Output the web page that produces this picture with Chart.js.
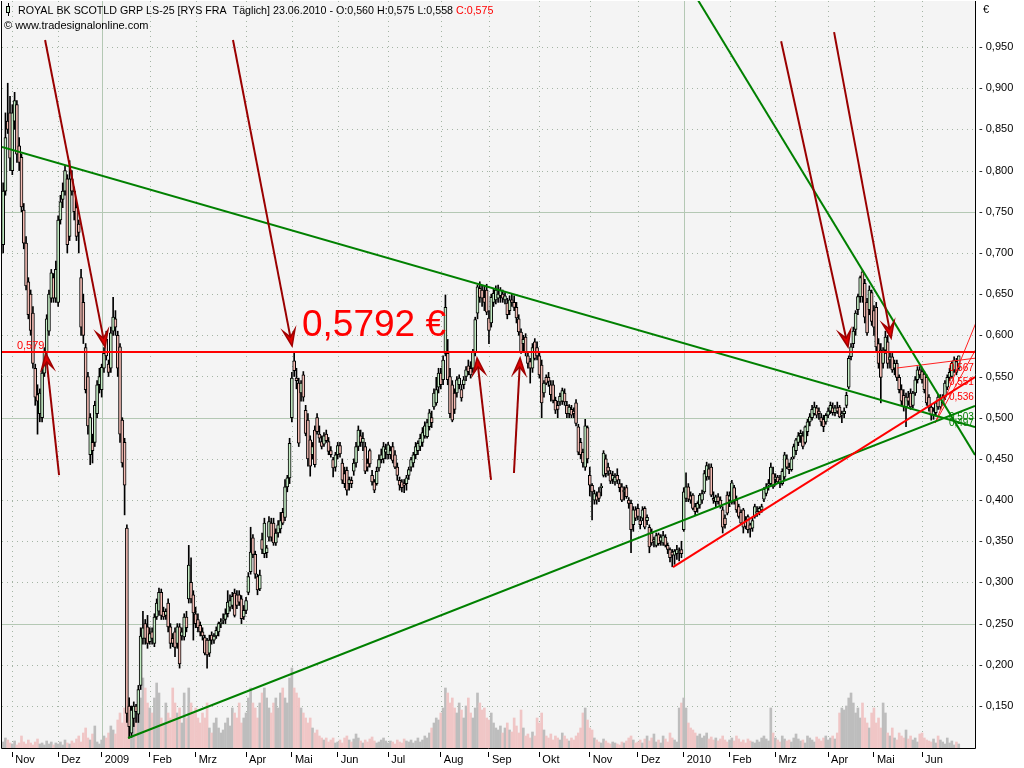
<!DOCTYPE html>
<html>
<head>
<meta charset="utf-8">
<script src="https://cdn.jsdelivr.net/npm/chart.js@4.4.1/dist/chart.umd.min.js"></script>
<style>
html, body { margin: 0; padding: 0; background: #fff; }
canvas { display: block; }
</style>
</head>
<body>
<canvas id="chart" width="1024" height="768"></canvas>
<script>
// daily candles in thousandths of a euro: [open, high, low, close, volume]
const oct08 = [[710,785,700,775,6],[775,870,770,840,10],[860,906,845,850,8],[870,890,800,815,5]];
const nov08 = [[800,880,795,870,4],[860,895,850,885,7],[880,885,810,820,3],[830,840,800,810,5],[816,820,750,756,12],[752,760,705,712,6],[712,720,655,660,4],[665,670,620,625,8],[650,655,600,606,5],[627,635,560,566,3],[560,565,515,525,6],[528,540,480,520,9],[505,535,495,530,4],[500,560,495,554,5],[554,585,550,580,3],[580,625,575,620,7],[605,655,600,650,4],[645,680,640,676,6],[670,675,640,645,3],[645,690,640,680,5]];
const dec08 = [[640,745,635,740,4],[740,770,735,762,6],[765,785,755,775,3],[775,805,770,800,8],[790,795,700,710,5],[720,812,715,790,4],[790,800,770,775,7],[775,780,740,750,5],[755,760,715,720,9],[735,740,700,725,12],[670,680,600,610,6],[640,650,590,600,15],[585,590,530,534,20],[550,555,480,490,10],[455,505,443,500,8],[470,480,445,460,14],[470,520,465,515,22],[505,545,500,540,6],[540,560,530,550,4]];
const jan09 = [[534,565,525,561,8],[560,585,555,578,12],[595,605,570,575,10],[565,570,550,555,15],[560,610,555,603,22],[605,646,600,622,18],[620,630,600,610,14],[600,605,550,560,28],[586,590,470,480,35],[497,500,440,445,25],[470,475,382,418,40],[366,370,130,141,148],[150,160,111,125,35],[117,150,112,145,30],[135,155,125,150,25],[150,152,130,143,30],[140,175,130,170,40],[175,245,170,235,50],[232,265,225,245,70],[250,255,225,232,60],[246,260,220,226,45]];
const feb09 = [[228,245,225,238,40],[240,245,225,232,35],[226,262,222,258,50],[258,280,255,275,65],[265,293,260,288,55],[288,292,255,260,30],[265,270,255,258,25],[260,268,255,265,45],[275,280,240,246,35],[246,250,220,226,30],[232,238,222,226,60],[240,245,210,221,45],[226,250,220,246,35],[246,250,196,201,40],[235,245,230,240,25],[234,262,230,258,55],[258,265,240,245,30],[280,345,275,321,60],[300,330,275,280,45],[285,290,230,263,35]];
const mar09 = [[262,270,245,250,40],[255,262,240,245,30],[248,252,235,240,25],[240,245,230,235,35],[233,236,212,214,30],[230,232,196,212,45],[214,236,210,230,20],[236,240,225,230,15],[230,238,226,235,25],[235,246,232,242,30],[240,252,235,250,20],[250,256,245,252,15],[254,262,250,255,18],[255,268,250,262,25],[262,290,258,276,30],[270,285,265,278,22],[272,288,268,283,40],[287,292,258,260,35],[285,290,268,272,30],[285,290,272,276,45],[280,284,250,256,25],[258,272,255,266,30]];
const apr09 = [[266,282,262,278,35],[288,312,285,307,50],[313,367,310,337,60],[354,358,330,334,45],[334,338,305,310,40],[307,310,285,291,30],[292,315,290,309,45],[352,360,335,340,55],[335,378,330,372,60],[336,345,330,342,50],[355,380,350,374,40],[372,378,350,355,35],[372,378,345,348,45],[348,365,345,360,50],[360,375,355,370,40],[365,385,360,375,55],[385,390,370,372,60],[379,425,375,416,50],[416,430,410,427,45],[427,475,420,469,70]];
const may09 = [[500,555,495,548,80],[569,580,550,557,60],[548,560,535,545,55],[542,548,465,469,50],[530,545,520,542,40],[552,556,520,525,35],[509,515,478,481,30],[497,505,441,450,25],[473,478,429,441,30],[455,470,450,465,20],[485,490,440,443,15],[500,505,480,483,18],[480,490,470,475,12],[471,478,462,465,10],[468,482,465,478,8],[480,485,470,472,10],[471,476,455,459,6],[460,465,452,455,8],[449,452,428,439,10],[440,458,435,455,5]];
const jun09 = [[455,470,450,466,6],[466,470,452,456,8],[445,450,420,424,5],[432,440,415,420,10],[436,440,406,412,12],[420,428,412,425,8],[424,428,415,420,6],[435,450,430,445,9],[445,470,440,465,14],[465,490,460,485,10],[478,485,465,470,7],[470,482,460,475,5],[465,470,432,435,8],[445,450,435,440,6],[460,462,440,444,9],[430,436,418,422,11],[422,425,409,412,7],[420,440,418,435,5],[439,455,435,449,6],[449,462,445,455,8],[450,470,445,465,10],[458,468,450,462,7]];
const jul09 = [[455,470,450,467,5],[455,465,450,460,7],[465,470,445,448,6],[455,460,438,440,4],[440,445,424,430,8],[424,428,412,418,6],[422,425,410,415,5],[420,425,409,418,9],[420,430,412,427,7],[430,440,425,437,6],[440,452,435,449,8],[445,458,440,455,5],[455,470,450,465,7],[460,472,455,469,10],[465,480,460,475,6],[470,488,465,482,8],[478,495,475,490,12],[477,498,475,494,10],[489,510,485,506,15],[500,508,488,494,20],[513,535,510,530,25],[518,549,515,534,30],[537,560,530,554,28]];
const aug09 = [[554,560,535,540,35],[546,575,540,570,40],[578,649,575,634,60],[578,595,540,546,55],[550,560,500,505,45],[540,545,495,497,50],[530,535,505,510,40],[530,550,525,546,35],[540,552,535,548,45],[534,540,520,524,38],[540,550,535,546,30],[550,562,545,558,42],[563,570,552,556,50],[560,568,548,552,35],[560,583,555,580,30],[580,622,575,619,40],[627,661,620,659,55],[657,665,640,646,45],[655,660,635,645,38],[646,660,630,640,40],[655,662,625,628,30]];
const sep09 = [[621,630,590,606,28],[615,650,610,646,35],[640,657,635,651,25],[643,660,638,655,20],[645,661,640,650,18],[648,658,640,655,22],[650,655,640,645,15],[643,652,638,648,20],[639,645,620,625,25],[630,648,625,643,18],[643,650,635,640,16],[640,648,630,634,30],[634,640,615,621,22],[620,625,600,604,15],[604,608,578,580,38],[590,600,580,595,20],[598,602,575,580,12],[575,580,560,566,14],[568,572,542,560,10],[560,590,555,585,16],[592,596,570,572,12],[585,592,570,575,30]];
const oct09 = [[575,580,548,552,25],[564,570,500,518,35],[530,545,525,542,18],[549,552,540,542,12],[549,555,538,544,10],[540,545,520,528,14],[540,545,518,521,8],[521,525,505,509,12],[515,520,500,510,10],[519,530,515,526,8],[520,536,516,533,15],[530,535,515,519,12],[515,520,500,505,9],[505,516,500,513,7],[510,515,500,503,10],[508,512,500,505,8],[518,522,490,493,12],[489,492,455,458,15],[470,475,450,455,20],[458,462,440,445,35],[440,498,436,490,40],[488,490,445,450,28]];
const nov09 = [[430,440,405,418,20],[418,420,376,410,18],[400,412,395,408,10],[405,410,395,400,8],[410,415,398,402,6],[415,420,405,417,5],[430,460,428,457,9],[450,455,428,432,7],[440,445,430,435,5],[432,436,420,423,4],[425,435,420,430,6],[422,432,418,428,5],[430,438,420,424,4],[420,425,410,415,3],[416,420,398,400,6],[410,416,400,412,5],[415,418,402,404,7],[400,403,390,396,10],[396,400,336,364,12],[370,392,362,388,8],[388,392,375,378,5]];
const dec09 = [[390,395,376,380,6],[375,380,365,370,8],[378,392,375,388,5],[390,392,365,367,9],[375,382,370,379,12],[367,370,336,343,7],[360,365,345,348,10],[350,355,343,352,14],[345,360,343,357,6],[358,360,345,347,8],[350,358,345,355,5],[348,362,345,357,12],[355,358,343,345,9],[345,348,335,340,6],[340,342,325,330,15],[337,340,319,333,10],[333,340,322,338,8],[335,345,328,340,6],[336,342,326,338,40],[340,350,330,335,45]];
const jan10 = [[364,415,362,410,50],[402,433,398,416,40],[416,420,398,401,25],[405,410,396,400,20],[406,408,388,390,18],[392,396,382,386,15],[390,398,385,396,12],[394,408,390,406,14],[400,412,396,408,10],[410,436,408,432,12],[428,446,424,442,15],[438,444,425,428,9],[440,444,404,406,11],[402,410,396,400,8],[398,406,392,404,10],[404,408,395,398,7],[400,404,390,392,9],[388,392,360,367,12],[378,382,366,370,8],[406,410,382,384,6]];
const feb10 = [[400,410,392,405,8],[397,424,395,421,10],[415,418,395,398,7],[400,405,385,388,12],[392,395,378,380,9],[385,388,370,372,6],[388,390,360,367,8],[375,380,365,368,5],[380,382,360,364,9],[370,372,355,365,7],[366,378,362,375,6],[380,395,378,392,5],[384,392,380,386,8],[386,392,382,390,6],[388,395,385,392,10],[401,415,398,413,12],[408,420,405,416,9],[418,425,412,420,7],[420,445,418,440,40],[432,440,414,416,15]];
const mar10 = [[425,432,418,428,10],[428,430,420,422,8],[425,430,415,420,6],[420,438,418,435,12],[428,458,425,455,9],[450,455,438,440,7],[440,445,432,437,8],[437,452,435,450,6],[452,468,450,465,10],[460,475,455,473,14],[470,482,466,478,9],[478,485,470,481,7],[478,483,462,465,8],[470,490,468,489,5],[483,498,478,495,12],[495,505,490,501,10],[500,515,497,510,8],[505,519,503,513,6],[512,515,500,503,11],[508,512,498,505,9],[500,505,490,495,7],[498,503,483,489,10],[495,505,492,503,12]];
const apr10 = [[503,512,500,508,8],[508,519,505,515,10],[512,518,503,506,12],[506,515,502,512,9],[512,519,505,508,15],[513,515,500,501,35],[503,508,494,505,40],[505,512,500,508,38],[515,531,512,527,42],[537,575,535,572,50],[574,590,570,586,55],[590,610,585,605,45],[607,630,600,627,35],[631,650,625,647,40],[647,672,640,670,30],[677,679,640,647,45],[663,668,615,622,30],[640,645,600,603,25],[631,660,625,655,20],[652,655,612,617,35]];
const may10 = [[630,636,600,610,40],[634,640,580,586,25],[590,596,560,566,30],[582,590,518,549,20],[566,585,560,582,45],[582,605,578,598,35],[592,600,560,566,15],[570,580,560,574,12],[574,578,555,558,20],[560,570,552,566,10],[566,570,545,549,8],[549,552,530,534,15],[534,540,515,520,12],[527,534,508,513,10],[513,530,489,525,18],[525,532,515,520,9],[530,535,510,513,12],[515,532,512,530,8],[530,550,527,546,10],[546,562,542,558,6],[558,562,548,552,14]];
const jun10 = [[556,560,542,546,15],[553,556,530,534,10],[549,552,515,518,8],[525,528,508,512,7],[513,516,497,503,6],[503,512,498,508,9],[506,520,502,518,5],[525,528,510,513,12],[513,528,510,522,8],[518,528,515,525,6],[525,545,522,542,4],[537,552,534,549,10],[549,560,545,555,5],[550,568,548,566,7],[558,574,555,570,3],[568,572,552,555,6],[560,575,558,575,4]];

// month label shown at the first trading day of each block
const months = [
  ["", oct08], ["Nov", nov08], ["Dez", dec08], ["2009", jan09], ["Feb", feb09], ["Mrz", mar09],
  ["Apr", apr09], ["Mai", may09], ["Jun", jun09], ["Jul", jul09], ["Aug", aug09], ["Sep", sep09],
  ["Okt", oct09], ["Nov", nov09], ["Dez", dec09], ["2010", jan10], ["Feb", feb10], ["Mrz", mar10],
  ["Apr", apr10], ["Mai", may10], ["Jun", jun10]
];

const yTicks = [0.15,0.2,0.25,0.3,0.35,0.4,0.45,0.5,0.55,0.6,0.65,0.7,0.75,0.8,0.85,0.9,0.95];
const resistance = 0.5792;

// drawn lines as [day, price, day, price]
const greenLines = [[-0.5,0.8286,424.1,0.4887],[54.5,0.1112,424.1,0.5142],[303.2,1.007,424.1,0.4547]];
const redLines = [[292.3,0.3187,424.1,0.5494]];
const thinRedLines = [[406.7,0.4936,425,0.6186],[406.7,0.4936,425,0.5858],[390.1,0.5603,424.1,0.5722]];
// arrows as [day, price, tip day, tip price]
const arrows = [
  [18.3,0.9585,44.5,0.5858],[24.4,0.4304,18.6,0.5785],[100.3,0.9585,126.1,0.587],
  [212.9,0.4244,206.8,0.5725],[222.9,0.4329,225.6,0.5725],[339.5,0.957,368.7,0.5858],
  [362.6,0.968,387.5,0.5967]
];
const redLevelLabels = [["0,567",412.7,0.5603],["0,551",412.7,0.5433],["0,536",412.7,0.5251]];
const greenLevelLabels = [["0,503",412.7,0.5008],["0,497",412.7,0.4936]];

const title = "ROYAL BK SCOTLD GRP LS-25 [RYS FRA  Täglich] 23.06.2010 - O:0,560 H:0,575 L:0,558 ";
const titleClose = "C:0,575";

// build
const rows = [];
const monthStarts = [];
const monthNames = [];
months.forEach(([name, list]) => {
  if (name) { monthStarts.push(rows.length); monthNames.push(name); }
  list.forEach(r => rows.push(r));
});
const isUp = rows.map(r => r[3] >= r[0]);
const wickData = rows.map((r, i) => ({ x: i, y: [r[2] / 1000, r[1] / 1000] }));
const bodyData = rows.map((r, i) => ({ x: i, y: [r[0] / 1000, r[3] / 1000] }));
const volData = rows.map((r, i) => ({ x: i, y: r[4] }));

const FONT = '"Liberation Sans", Arial, sans-serif';
const fmt = (v, n = 3) => v.toFixed(n).replace(".", ",");

const decor = {
  id: "decor",
  beforeDraw(chart) {
    const { ctx, chartArea: a } = chart;
    ctx.save();
    ctx.fillStyle = "#fff";
    ctx.fillRect(0, 0, chart.width, chart.height);
    ctx.fillStyle = "#f4f4f4";
    ctx.fillRect(a.left, a.top, a.right - a.left, a.bottom - a.top);
    ctx.restore();
  },
  beforeDatasetsDraw(chart) {
    const { ctx, chartArea: a, scales } = chart;
    ctx.save();
    ctx.lineWidth = 1;
    yTicks.forEach(v => {
      const py = Math.round(scales.y.getPixelForValue(v)) + 0.5;
      const major = Math.round(v * 1000) % 250 === 0;
      ctx.setLineDash(major ? [] : [1, 4]);
      ctx.strokeStyle = major ? "#b4c8b4" : "#a4b4a4";
      ctx.beginPath(); ctx.moveTo(a.left, py); ctx.lineTo(a.right, py); ctx.stroke();
    });
    monthStarts.forEach((d, k) => {
      const px = Math.round(scales.x.getPixelForValue(d)) + 0.5;
      const major = /^\d/.test(monthNames[k]);
      ctx.setLineDash(major ? [] : [1, 4]);
      ctx.strokeStyle = major ? "#b4c8b4" : "#a4b4a4";
      ctx.beginPath(); ctx.moveTo(px, a.top); ctx.lineTo(px, a.bottom); ctx.stroke();
    });
    ctx.restore();
  },
  afterDatasetsDraw(chart) {
    const { ctx, chartArea: a, scales } = chart;
    const X = d => scales.x.getPixelForValue(d);
    const Y = v => scales.y.getPixelForValue(v);
    ctx.save();
    ctx.beginPath();
    ctx.rect(a.left, a.top, a.right - a.left, a.bottom - a.top);
    ctx.clip();

    const line = (l, color, w) => {
      ctx.strokeStyle = color; ctx.lineWidth = w;
      ctx.beginPath(); ctx.moveTo(X(l[0]), Y(l[1])); ctx.lineTo(X(l[2]), Y(l[3])); ctx.stroke();
    };
    thinRedLines.forEach(l => line(l, "#ff2020", 1));
    greenLines.forEach(l => line(l, "#008000", 2));
    redLines.forEach(l => line(l, "#ff0000", 2));

    // resistance line
    const ry = Math.round(Y(resistance));
    ctx.strokeStyle = "#ff0000"; ctx.lineWidth = 2;
    ctx.beginPath(); ctx.moveTo(a.left, ry); ctx.lineTo(a.right, ry); ctx.stroke();

    // arrows
    arrows.forEach(ar => {
      const x1 = X(ar[0]), y1 = Y(ar[1]), x2 = X(ar[2]), y2 = Y(ar[3]);
      const ang = Math.atan2(y2 - y1, x2 - x1);
      const c = Math.cos(ang), s = Math.sin(ang);
      const len = 16, half = 6, notch = 9;
      const bx = x2 - c * notch, by = y2 - s * notch;
      ctx.strokeStyle = "#9a0000"; ctx.lineWidth = 2;
      ctx.beginPath(); ctx.moveTo(x1, y1); ctx.lineTo(bx, by); ctx.stroke();
      const wx = x2 - c * len, wy = y2 - s * len;
      ctx.beginPath();
      ctx.moveTo(x2, y2);
      ctx.lineTo(wx - s * half, wy + c * half);
      ctx.lineTo(bx, by);
      ctx.lineTo(wx + s * half, wy - c * half);
      ctx.closePath();
      ctx.fillStyle = "#e00000"; ctx.fill();
      ctx.lineWidth = 1.5; ctx.strokeStyle = "#a00000"; ctx.stroke();
    });

    // labels
    ctx.font = "10px " + FONT;
    ctx.textBaseline = "middle";
    ctx.textAlign = "left";
    ctx.fillStyle = "#ff0000";
    redLevelLabels.forEach(([t, d, v]) => ctx.fillText(t, X(d), Y(v)));
    ctx.fillStyle = "#008000";
    greenLevelLabels.forEach(([t, d, v]) => ctx.fillText(t, X(d), Y(v)));
    ctx.fillStyle = "#ff0000";
    ctx.font = "11px " + FONT;
    ctx.textBaseline = "bottom";
    ctx.fillText(fmt(resistance), X(6), ry - 1);
    ctx.font = "37px " + FONT;
    ctx.textBaseline = "alphabetic";
    ctx.fillText(fmt(resistance, 4) + " €", X(130.4), Y(0.599));
    ctx.restore();
  },
  afterDraw(chart) {
    const { ctx, chartArea: a } = chart;
    ctx.save();
    ctx.strokeStyle = "#000"; ctx.lineWidth = 1;
    ctx.beginPath();
    ctx.moveTo(a.left - 0.5, a.top); ctx.lineTo(a.left - 0.5, a.bottom + 0.5);
    ctx.lineTo(a.right + 0.5, a.bottom + 0.5); ctx.lineTo(a.right + 0.5, a.top);
    ctx.stroke();

    // title
    ctx.fillStyle = "#c8ecc8"; ctx.fillRect(6, 6, 4, 7);
    ctx.strokeRect(6.5, 6.5, 3, 6);
    ctx.beginPath(); ctx.moveTo(8.5, 3); ctx.lineTo(8.5, 6); ctx.moveTo(8.5, 13); ctx.lineTo(8.5, 16); ctx.stroke();
    ctx.font = "10.7px " + FONT;
    ctx.textBaseline = "alphabetic";
    ctx.fillStyle = "#000";
    ctx.fillText(title, 18, 14);
    const w = ctx.measureText(title).width;
    ctx.fillStyle = "#ff0000";
    ctx.fillText(titleClose, 18 + w, 14);
    ctx.fillStyle = "#000";
    ctx.font = "11px " + FONT;
    ctx.fillText("© www.tradesignalonline.com", 4, 29);
    ctx.fillText("€", 983, 13);
    ctx.restore();
  }
};

new Chart(document.getElementById("chart"), {
  type: "bar",
  data: {
    datasets: [
      {
        data: bodyData, yAxisID: "y", order: 1, grouped: false,
        barThickness: 3, minBarLength: 1, borderWidth: 1, borderSkipped: false,
        borderColor: "#000",
        backgroundColor: isUp.map(u => (u ? "#c4ecc4" : "#f4bcb4"))
      },
      {
        data: wickData, yAxisID: "y", order: 2, grouped: false,
        barThickness: 1, borderWidth: 0, backgroundColor: "#000"
      },
      {
        data: volData, yAxisID: "yv", order: 3, grouped: false,
        barThickness: 2, borderWidth: 0,
        backgroundColor: isUp.map(u => (u ? "#bdbdbd" : "#f0c6c6"))
      }
    ]
  },
  options: {
    responsive: false,
    animation: false,
    devicePixelRatio: 1,
    events: [],
    layout: { padding: { left: 2, top: 1, right: 0, bottom: 0 } },
    plugins: { legend: { display: false }, tooltip: { enabled: false } },
    scales: {
      x: {
        type: "linear", min: -0.5, max: 424.1, offset: false,
        grid: { drawOnChartArea: false, drawTicks: true, tickLength: 9, tickBorderDash: [0, 4, 5, 0], color: "#000", offset: false },
        border: { display: false },
        afterBuildTicks: s => { s.ticks = monthStarts.map(v => ({ value: v })); },
        afterFit: s => { s.height = 20; s.paddingLeft = 0; s.paddingRight = 0; },
        ticks: {
          autoSkip: false, maxRotation: 0, align: "start", padding: -4, labelOffset: 3,
          color: "#000", font: { family: FONT, size: 11 },
          callback: v => monthNames[monthStarts.indexOf(v)]
        }
      },
      y: {
        position: "right", min: 0.09901, max: 1.00584,
        grid: { drawOnChartArea: false, drawTicks: false },
        border: { display: false },
        afterBuildTicks: s => { s.ticks = yTicks.map(v => ({ value: v })); },
        afterFit: s => { s.width = 49; s.paddingTop = 0; s.paddingBottom = 0; },
        ticks: {
          padding: 4, color: "#000", font: { family: FONT, size: 11 },
          callback: v => "- " + fmt(v)
        }
      },
      yv: { display: false, min: 0, max: 747 }
    }
  },
  plugins: [decor]
});
</script>
</body>
</html>
